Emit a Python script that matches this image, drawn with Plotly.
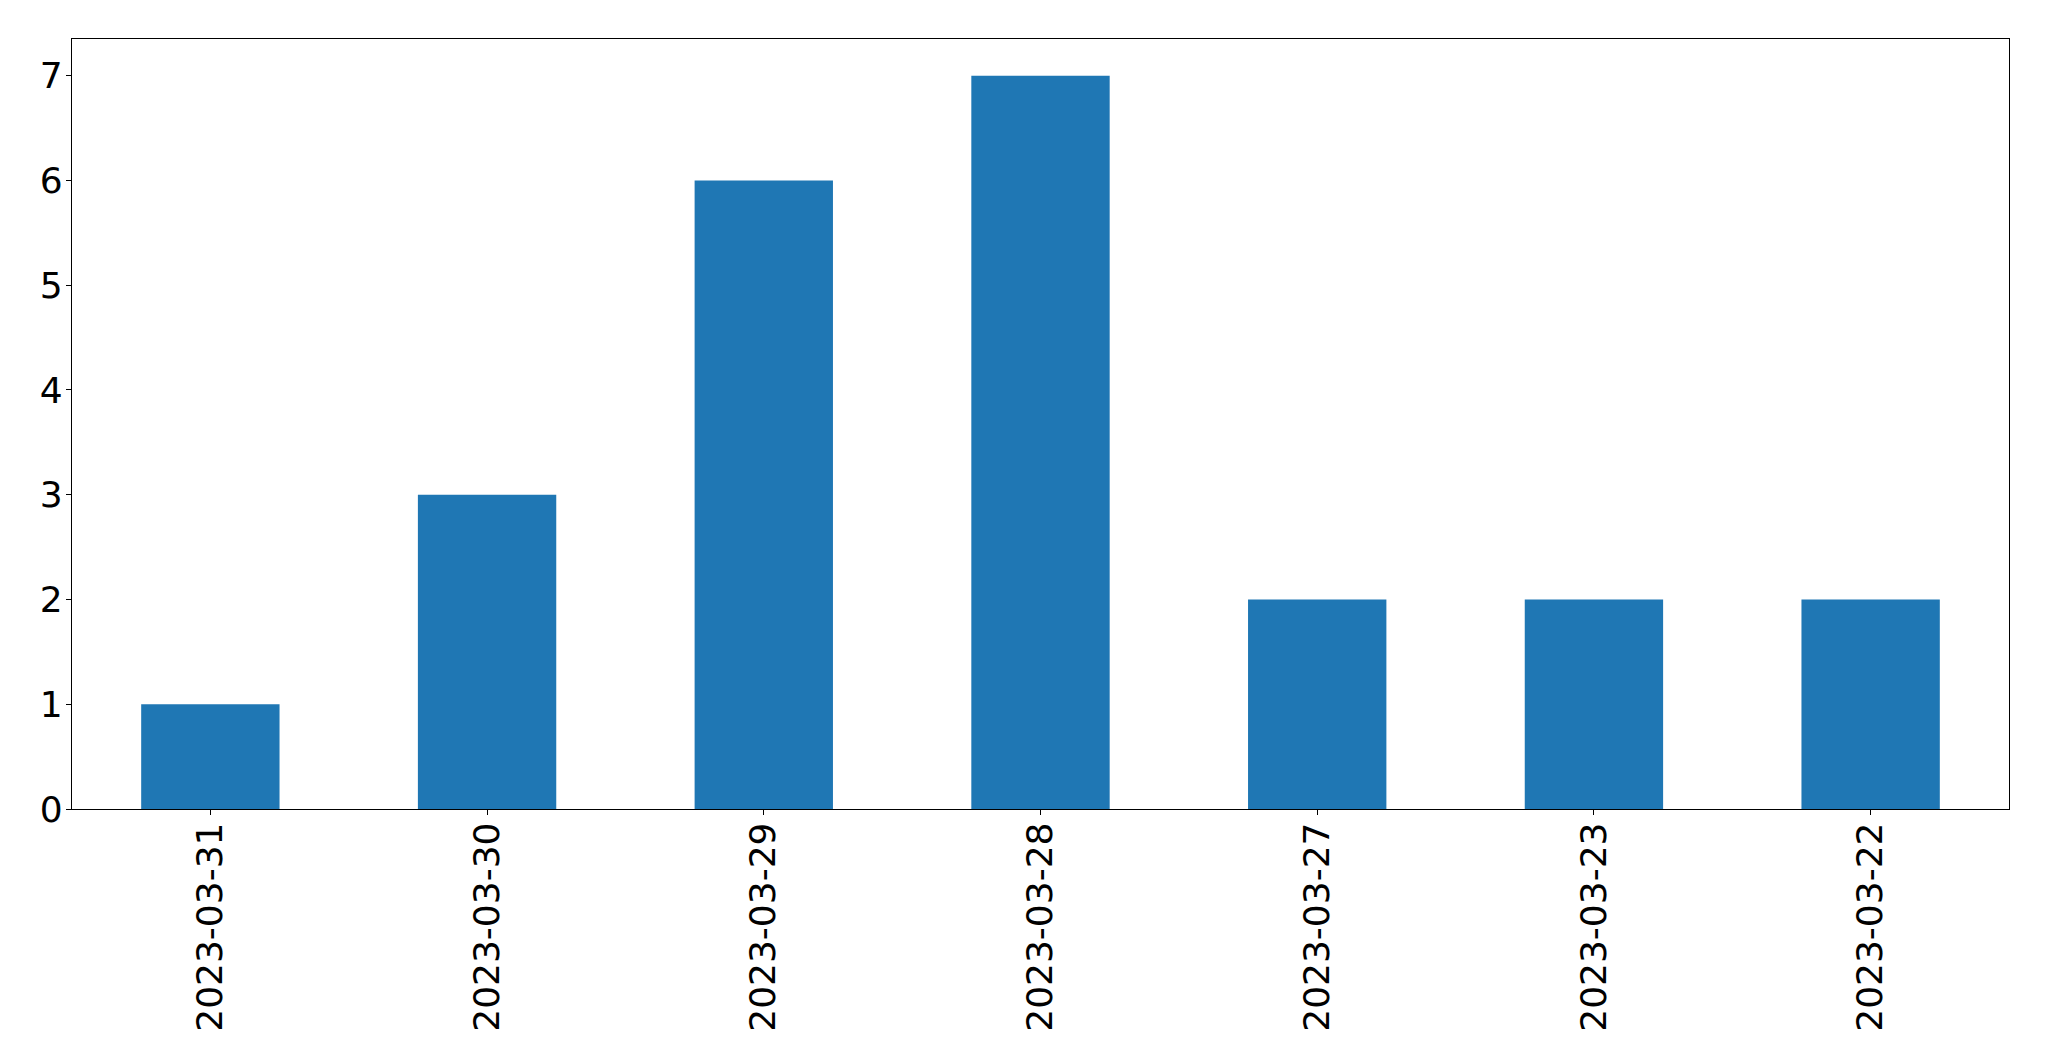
import plotly.graph_objects as go

categories = ["2023-03-31", "2023-03-30", "2023-03-29", "2023-03-28", "2023-03-27", "2023-03-23", "2023-03-22"]
values = [1, 3, 6, 7, 2, 2, 2]

fig = go.Figure(go.Bar(x=categories, y=values, marker=dict(color="#1f77b4", line=dict(width=0))))

axis_common = dict(
    showline=True, linecolor="black", linewidth=1.3, mirror=True,
    ticks="outside", ticklen=5, tickwidth=1.3, tickcolor="black",
    showgrid=False, zeroline=False,
    tickfont=dict(family="DejaVu Sans", size=36, color="black"),
)

fig.update_layout(
    width=2033, height=1045,
    margin=dict(l=64, r=32, t=31, b=244, autoexpand=False),
    paper_bgcolor="white", plot_bgcolor="white",
    bargap=0.5, showlegend=False,
    xaxis=dict(type="category", range=[-0.5, 6.5], tickangle=-90, ticklabelstandoff=-7, **axis_common),
    yaxis=dict(range=[0, 7.35], tickvals=[0, 1, 2, 3, 4, 5, 6, 7], ticklabelstandoff=-4, **axis_common),
)

fig.write_html("out.html")
